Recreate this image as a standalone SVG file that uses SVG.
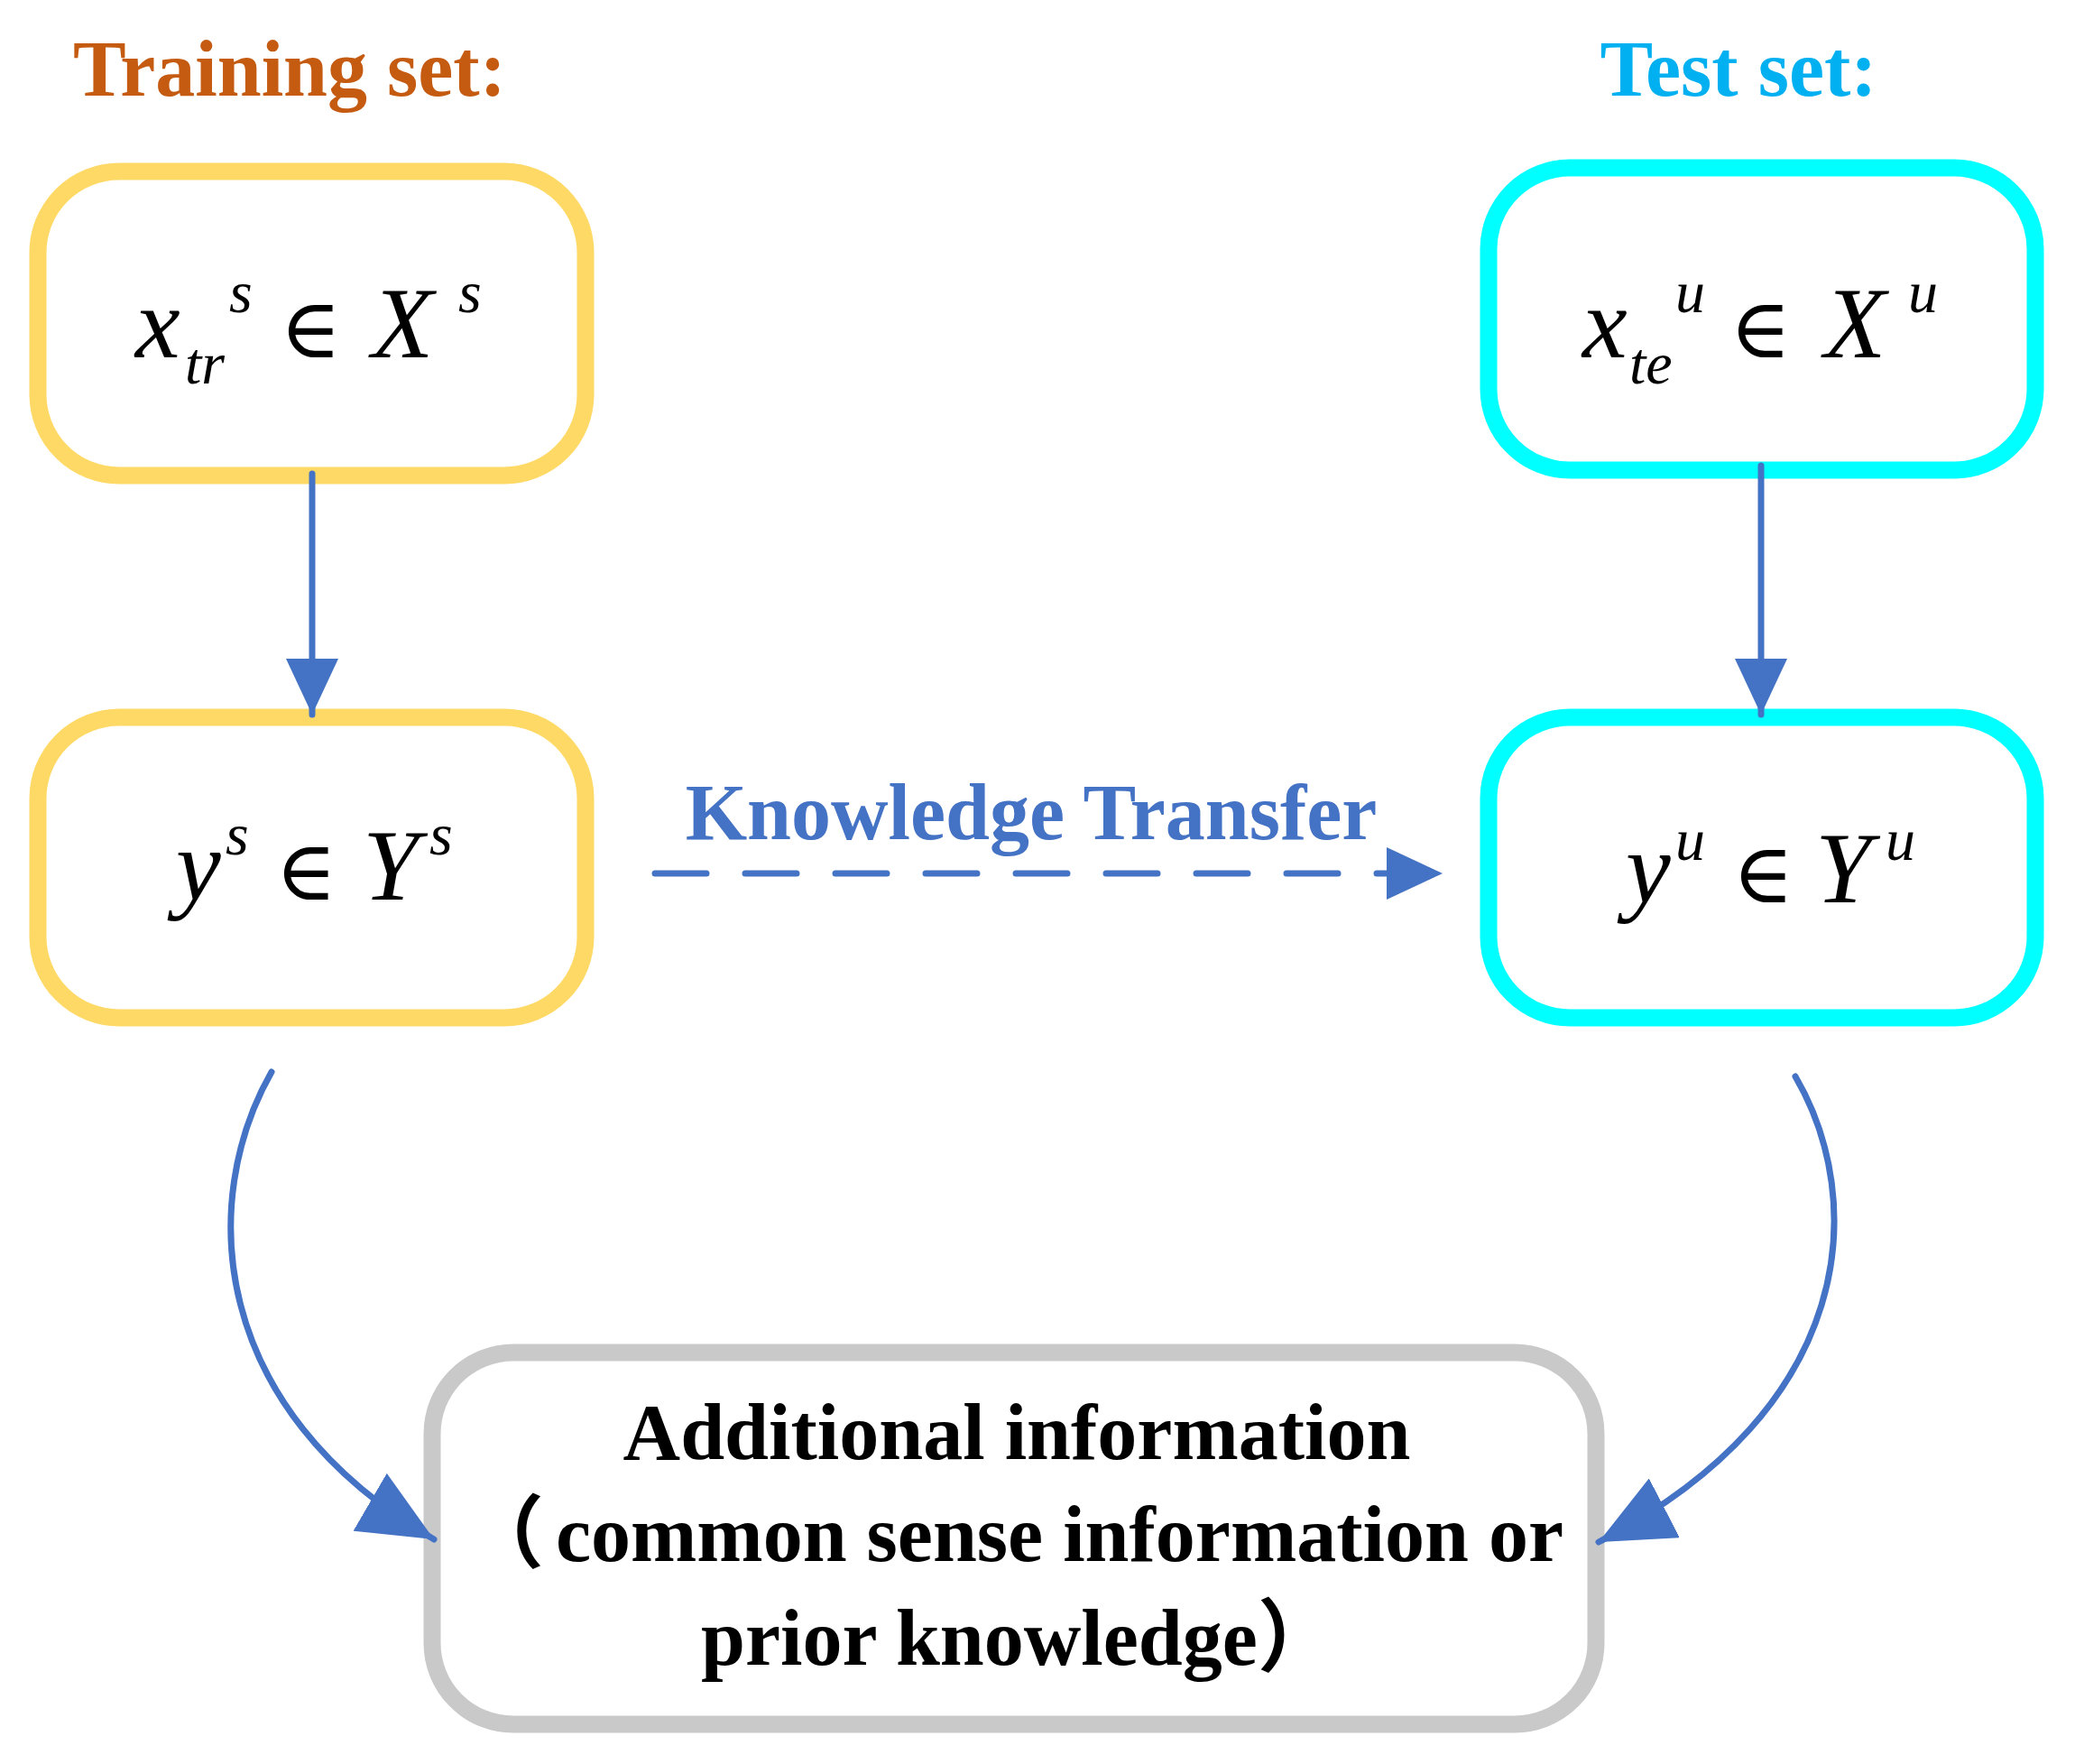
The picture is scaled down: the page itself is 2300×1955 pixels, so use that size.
<svg xmlns="http://www.w3.org/2000/svg" width="2300" height="1955" viewBox="0 0 2300 1955">
<style>
.box{fill:#FFFFFF;stroke-width:19}
.yel{stroke:#FFD966}
.cya{stroke:#00FFFF}
.gry{stroke:#C9C9C9}
.hd{font-family:"Liberation Serif","Times New Roman",serif;font-weight:bold;font-size:88px}
.m{font-family:"Liberation Serif","Times New Roman",serif;font-style:italic;font-size:112px;fill:#000}
.ms{font-family:"Liberation Serif","Times New Roman",serif;font-style:italic;font-size:66px;fill:#000}
.op{font-family:"DejaVu Serif","Liberation Serif",serif;font-size:92px;fill:#000}
.lab{font-family:"Liberation Serif","Times New Roman","Noto Sans CJK SC",serif;font-weight:bold;font-size:88px;fill:#000}
.cn{stroke:#4472C4;stroke-width:7;fill:none;stroke-linecap:round}
</style>
<defs>
<marker id="arr" markerUnits="userSpaceOnUse" markerWidth="62" markerHeight="58" refX="62" refY="29" orient="auto" viewBox="0 0 62 58">
<path d="M0,0 L62,29 L0,58 Z" fill="#4472C4"/>
</marker>
<marker id="arrBig" markerUnits="userSpaceOnUse" markerWidth="82" markerHeight="74" refX="82" refY="37" orient="auto" viewBox="0 0 82 74">
<path d="M0,0 L82,37 L0,74 Z" fill="#4472C4"/>
</marker>
</defs>

<text class="hd" x="321" y="106" text-anchor="middle" fill="#C55A11">Training set:</text>
<text class="hd" x="1927" y="106" text-anchor="middle" fill="#00B0F0">Test set:</text>

<g id="node-xs">
<rect class="box yel" x="42" y="190" width="607" height="337" rx="90" ry="90"/>
<text class="m" x="150" y="396">x</text>
<text class="ms" x="205" y="425">tr</text>
<text class="ms" x="254" y="346">s</text>
<text class="op" x="310" y="396">∈</text>
<text class="m" x="412" y="396">X</text>
<text class="ms" x="508" y="346">s</text>
</g>

<g id="node-xu">
<rect class="box cya" x="1650" y="186" width="606" height="335" rx="90" ry="90"/>
<text class="m" x="1754" y="396">x</text>
<text class="ms" x="1806" y="425">te</text>
<text class="ms" x="1857" y="346">u</text>
<text class="op" x="1917" y="396">∈</text>
<text class="m" x="2022" y="396">X</text>
<text class="ms" x="2115" y="346">u</text>
</g>

<g id="node-ys">
<rect class="box yel" x="42" y="795" width="607" height="333" rx="90" ry="90"/>
<text class="m" x="195" y="997">y</text>
<text class="ms" x="250" y="947">s</text>
<text class="op" x="305" y="997">∈</text>
<text class="m" x="402" y="997">Y</text>
<text class="ms" x="476" y="947">s</text>
</g>

<g id="node-yu">
<rect class="box cya" x="1650" y="795" width="606" height="333" rx="90" ry="90"/>
<text class="m" x="1802" y="1000">y</text>
<text class="ms" x="1857" y="953">u</text>
<text class="op" x="1920" y="1000">∈</text>
<text class="m" x="2012" y="1000">Y</text>
<text class="ms" x="2090" y="953">u</text>
</g>

<g id="node-info">
<rect class="box gry" x="479" y="1499" width="1290" height="412" rx="90" ry="90"/>
<text class="lab" x="1127" y="1617" text-anchor="middle">Additional information</text>
<text class="lab" y="1730"><tspan x="515">（</tspan><tspan x="616">common sense information or</tspan></text>
<text class="lab" x="777" y="1845">prior knowledge）</text>
</g>

<g id="connectors">
<path class="cn" d="M346,525 L346,792" marker-end="url(#arr)"/>
<path class="cn" d="M1952,516 L1952,792" marker-end="url(#arr)"/>
<path class="cn" d="M726,968 L1599,968" stroke-dasharray="57 43" stroke-width="7.5" marker-end="url(#arr)"/>
<path class="cn" d="M301,1188 C220,1330 230,1560 481,1706" marker-end="url(#arrBig)"/>
<path class="cn" d="M1990,1193 C2070,1330 2060,1560 1772,1709" marker-end="url(#arrBig)"/>
<text class="hd" x="1143" y="930" text-anchor="middle" fill="#4472C4">Knowledge Transfer</text>
</g>
</svg>
